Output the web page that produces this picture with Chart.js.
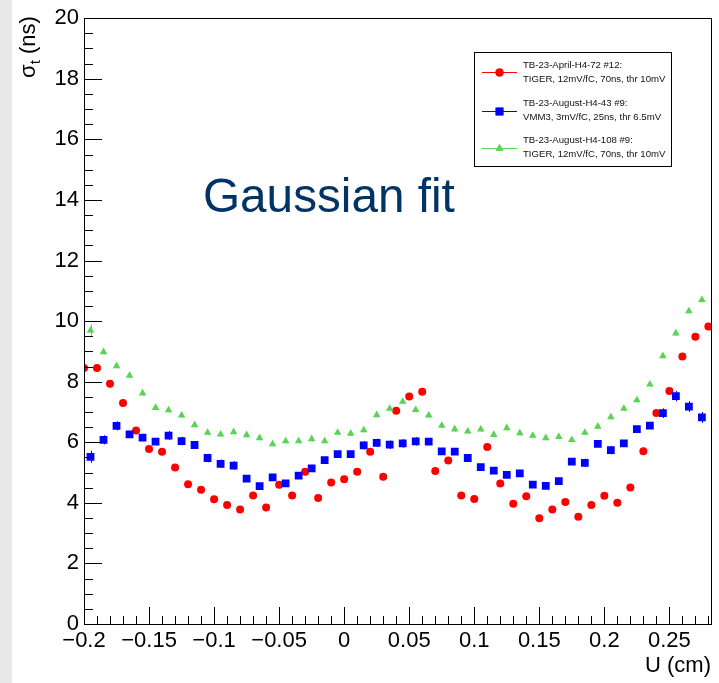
<!DOCTYPE html>
<html>
<head>
<meta charset="utf-8">
<title>sigma_t vs U</title>
<script src="https://cdn.jsdelivr.net/npm/chart.js@4.4.0/dist/chart.umd.min.js"></script>
<style>
  html, body { margin: 0; padding: 0; background: #fff; }
  #wrap { position: relative; width: 719px; height: 683px; }
</style>
</head>
<body>
<div id="wrap"><canvas id="c" width="719" height="683"></canvas></div>
<script>
// U bin centres (cm)
const uApril = [-0.2, -0.19, -0.18, -0.17, -0.16, -0.15, -0.14, -0.13, -0.12, -0.11,
  -0.1, -0.09, -0.08, -0.07, -0.06, -0.05, -0.04, -0.03, -0.02, -0.01,
  0, 0.01, 0.02, 0.03, 0.04, 0.05, 0.06, 0.07, 0.08, 0.09,
  0.1, 0.11, 0.12, 0.13, 0.14, 0.15, 0.16, 0.17, 0.18, 0.19,
  0.2, 0.21, 0.22, 0.23, 0.24, 0.25, 0.26, 0.27, 0.28];
const uAugust = [-0.195, -0.185, -0.175, -0.165, -0.155, -0.145, -0.135, -0.125, -0.115, -0.105,
  -0.095, -0.085, -0.075, -0.065, -0.055, -0.045, -0.035, -0.025, -0.015, -0.005,
  0.005, 0.015, 0.025, 0.035, 0.045, 0.055, 0.065, 0.075, 0.085, 0.095,
  0.105, 0.115, 0.125, 0.135, 0.145, 0.155, 0.165, 0.175, 0.185, 0.195,
  0.205, 0.215, 0.225, 0.235, 0.245, 0.255, 0.265, 0.275];

// sigma_t (ns), TB-23-April-H4-72 #12 (TIGER)
const sigmaApril = [8.45, 8.45, 7.93, 7.30, 6.39, 5.78, 5.69, 5.17, 4.61, 4.43,
  4.12, 3.93, 3.78, 4.24, 3.85, 4.60, 4.24, 5.03, 4.16, 4.67,
  4.78, 5.03, 5.69, 4.86, 7.04, 7.51, 7.67, 5.05, 5.40, 4.24,
  4.13, 5.84, 4.64, 3.97, 4.22, 3.49, 3.78, 4.03, 3.54, 3.93,
  4.23, 4.00, 4.51, 5.70, 6.97, 7.69, 8.83, 9.48, 9.82];

// sigma_t (ns), TB-23-August-H4-43 #9 (VMM3)
const sigmaVmm = [5.52, 6.08, 6.54, 6.26, 6.15, 6.02, 6.22, 6.04, 5.91, 5.48,
  5.29, 5.23, 4.80, 4.55, 4.84, 4.64, 4.90, 5.14, 5.41, 5.61,
  5.61, 5.90, 5.98, 5.92, 5.96, 6.03, 6.02, 5.70, 5.69, 5.48,
  5.18, 5.06, 4.92, 4.97, 4.60, 4.56, 4.72, 5.36, 5.32, 5.95,
  5.74, 5.96, 6.43, 6.55, 6.96, 7.52, 7.18, 6.82];
const errVmm = [0.20, 0.15, 0.15, 0.12, 0.10, 0.12, 0.15, 0.14, 0.12, 0.14,
  0.14, 0.14, 0.10, 0.10, 0.10, 0.10, 0.10, 0.10, 0.10, 0.10,
  0.10, 0.14, 0.14, 0.14, 0.14, 0.14, 0.10, 0.10, 0.10, 0.10,
  0.10, 0.10, 0.10, 0.10, 0.10, 0.10, 0.10, 0.10, 0.14, 0.10,
  0.14, 0.10, 0.10, 0.10, 0.16, 0.17, 0.18, 0.18];

// sigma_t (ns), TB-23-August-H4-108 #9 (TIGER)
const sigmaTiger = [9.69, 8.98, 8.52, 8.20, 7.62, 7.14, 7.06, 6.89, 6.57, 6.32,
  6.26, 6.34, 6.24, 6.14, 5.94, 6.04, 6.04, 6.11, 6.04, 6.32,
  6.29, 6.40, 6.90, 7.11, 7.34, 7.07, 6.89, 6.55, 6.43, 6.36,
  6.43, 6.25, 6.47, 6.30, 6.22, 6.14, 6.18, 6.08, 6.32, 6.52,
  6.83, 7.11, 7.39, 7.91, 8.85, 9.60, 10.33, 10.70];
const errTiger = [0.20, 0.08, 0.08, 0.08, 0.08, 0.08, 0.08, 0.08, 0.08, 0.08,
  0.08, 0.08, 0.08, 0.08, 0.08, 0.08, 0.08, 0.08, 0.08, 0.08,
  0.08, 0.08, 0.08, 0.08, 0.08, 0.08, 0.08, 0.08, 0.08, 0.08,
  0.08, 0.08, 0.08, 0.08, 0.08, 0.08, 0.08, 0.08, 0.08, 0.08,
  0.08, 0.08, 0.08, 0.08, 0.08, 0.08, 0.08, 0.08];

const legendTitles = ['TB-23-April-H4-72 #12:', 'TB-23-August-H4-43 #9:', 'TB-23-August-H4-108 #9:'];
const legendSetups = ['TIGER, 12mV/fC, 70ns, thr 10mV', 'VMM3, 3mV/fC, 25ns, thr 6.5mV', 'TIGER, 12mV/fC, 70ns, thr 10mV'];

const RED = '#ff0000';
const BLUE = '#0000ff';
const GREEN = 'rgb(89,212,84)';
const FONT = '"Liberation Sans", Arial, Helvetica, sans-serif';

function pts(xs, ys) {
  return xs.map((x, i) => ({ x: x, y: ys[i] }));
}

function fmtU(v) {
  const s = String(parseFloat(v.toFixed(3)));
  return s.replace('-', '\u2212');
}

// marker drawn with the same path chart.js uses for points
function marker(ctx, style, x, y, r, color) {
  ctx.save();
  ctx.fillStyle = color;
  Chart.helpers.drawPoint(ctx, { pointStyle: style, radius: r, rotation: 0, borderWidth: 0 }, x, y);
  ctx.fill();
  ctx.restore();
}

const rootStyle = {
  id: 'rootStyle',
  beforeDraw(chart) {
    const ctx = chart.ctx;
    ctx.save();
    ctx.fillStyle = '#fff';
    ctx.fillRect(0, 0, chart.width, chart.height);
    ctx.fillStyle = '#e8e8e8';
    ctx.fillRect(0, 0, 12, chart.height);
    ctx.restore();
  },
  beforeDatasetsDraw(chart) {
    const ctx = chart.ctx;
    const ys = chart.scales.y;
    const bars = [[1, errVmm, BLUE], [2, errTiger, GREEN]];
    ctx.save();
    ctx.lineWidth = 1;
    bars.forEach(([idx, errs, col]) => {
      const meta = chart.getDatasetMeta(idx);
      const data = chart.data.datasets[idx].data;
      ctx.strokeStyle = col;
      ctx.beginPath();
      meta.data.forEach((p, i) => {
        const x = Math.round(p.x) + 0.5;
        ctx.moveTo(x, ys.getPixelForValue(data[i].y - errs[i]));
        ctx.lineTo(x, ys.getPixelForValue(data[i].y + errs[i]));
      });
      ctx.stroke();
    });
    ctx.restore();
  },
  afterDraw(chart) {
    const ctx = chart.ctx;
    const a = chart.chartArea;
    const xs = chart.scales.x, ys = chart.scales.y;
    ctx.save();

    // frame
    ctx.strokeStyle = '#000';
    ctx.lineWidth = 1;
    ctx.strokeRect(Math.round(a.left) + 0.5, Math.round(a.top) + 0.5,
      Math.round(a.right - a.left), Math.round(a.bottom - a.top));

    // inward ticks
    ctx.beginPath();
    for (let i = 0; i <= 40; i++) {
      const y = Math.round(ys.getPixelForValue(i * 0.5)) + 0.5;
      const len = i % 4 === 0 ? 18 : 9;
      ctx.moveTo(a.left, y);
      ctx.lineTo(a.left + len, y);
    }
    for (let i = 0; i <= 48; i++) {
      const x = Math.round(xs.getPixelForValue(-0.2 + i * 0.01)) + 0.5;
      const len = i % 5 === 0 ? 17 : 8;
      ctx.moveTo(x, a.bottom);
      ctx.lineTo(x, a.bottom - len);
    }
    ctx.stroke();

    // axis titles
    ctx.fillStyle = '#000';
    ctx.font = '22px ' + FONT;
    ctx.textAlign = 'right';
    ctx.textBaseline = 'alphabetic';
    ctx.fillText('U (cm)', a.right, 672);

    ctx.save();
    ctx.translate(35, a.top - 2);
    ctx.rotate(-Math.PI / 2);
    ctx.textAlign = 'left';
    ctx.font = '22px ' + FONT;
    const wSig = ctx.measureText('\u03c3').width;
    const wRest = ctx.measureText(' (ns)').width;
    ctx.font = '15px ' + FONT;
    const wT = ctx.measureText('t').width;
    let x0 = -(wSig + wT + wRest);
    ctx.font = '22px ' + FONT;
    ctx.fillText('\u03c3', x0, 0);
    ctx.font = '15px ' + FONT;
    ctx.fillText('t', x0 + wSig, 5);
    ctx.font = '22px ' + FONT;
    ctx.fillText(' (ns)', x0 + wSig + wT, 0);
    ctx.restore();

    // fit label
    ctx.fillStyle = '#003366';
    ctx.font = '47.7px ' + FONT;
    ctx.textAlign = 'left';
    ctx.fillText('Gaussian fit', 203, 212);

    // legend
    const lx = 474.5, ly = 52.5, lw = 197, lh = 114;
    ctx.fillStyle = '#fff';
    ctx.fillRect(lx, ly, lw, lh);
    ctx.strokeStyle = '#000';
    ctx.strokeRect(lx, ly, lw, lh);
    const rows = [72, 110.5, 147.5];
    const cols = [RED, BLUE, GREEN];
    const styles = [['circle', 4], ['rect', 5.5], ['triangle', 4.4]];
    rows.forEach((cy, i) => {
      ctx.strokeStyle = cols[i];
      ctx.lineWidth = 1;
      ctx.beginPath();
      ctx.moveTo(482, Math.round(cy) + 0.5);
      ctx.lineTo(517, Math.round(cy) + 0.5);
      ctx.stroke();
      marker(ctx, styles[i][0], 499.5, Math.round(cy) + 0.5, styles[i][1], cols[i]);
      ctx.fillStyle = '#111';
      ctx.font = '9.6px ' + FONT;
      ctx.textAlign = 'left';
      ctx.textBaseline = 'middle';
      ctx.fillText(legendTitles[i], 523, cy - 7);
      ctx.fillText(legendSetups[i], 523, cy + 7);
    });
    ctx.restore();
  }
};

new Chart(document.getElementById('c'), {
  type: 'scatter',
  data: {
    datasets: [
      {
        label: legendTitles[0],
        data: pts(uApril, sigmaApril),
        pointStyle: 'circle',
        pointRadius: 4,
        backgroundColor: RED,
        borderWidth: 0,
        order: 3
      },
      {
        label: legendTitles[1],
        data: pts(uAugust, sigmaVmm),
        pointStyle: 'rect',
        pointRadius: 5.5,
        backgroundColor: BLUE,
        borderWidth: 0,
        order: 2
      },
      {
        label: legendTitles[2],
        data: pts(uAugust, sigmaTiger),
        pointStyle: 'triangle',
        pointRadius: 4.4,
        backgroundColor: GREEN,
        borderWidth: 0,
        order: 1
      }
    ]
  },
  options: {
    responsive: false,
    animation: false,
    devicePixelRatio: 1,
    layout: { padding: { left: 0, top: 15, right: 8, bottom: 0 } },
    plugins: {
      legend: { display: false },
      tooltip: { enabled: false }
    },
    scales: {
      x: {
        type: 'linear',
        min: -0.2,
        max: 0.282,
        afterFit(s) { s.height = 59; },
        grid: { display: false, drawTicks: false },
        border: { display: false },
        ticks: {
          stepSize: 0.05,
          includeBounds: false,
          autoSkip: false,
          maxRotation: 0,
          padding: 4,
          color: '#000',
          font: { family: FONT, size: 22 },
          callback: (v) => fmtU(v)
        }
      },
      y: {
        type: 'linear',
        min: 0,
        max: 20,
        afterFit(s) { s.width = 84; },
        grid: { display: false, drawTicks: false },
        border: { display: false },
        ticks: {
          stepSize: 2,
          padding: 5,
          color: '#000',
          font: { family: FONT, size: 22 }
        }
      }
    }
  },
  plugins: [rootStyle]
});
</script>
</body>
</html>
